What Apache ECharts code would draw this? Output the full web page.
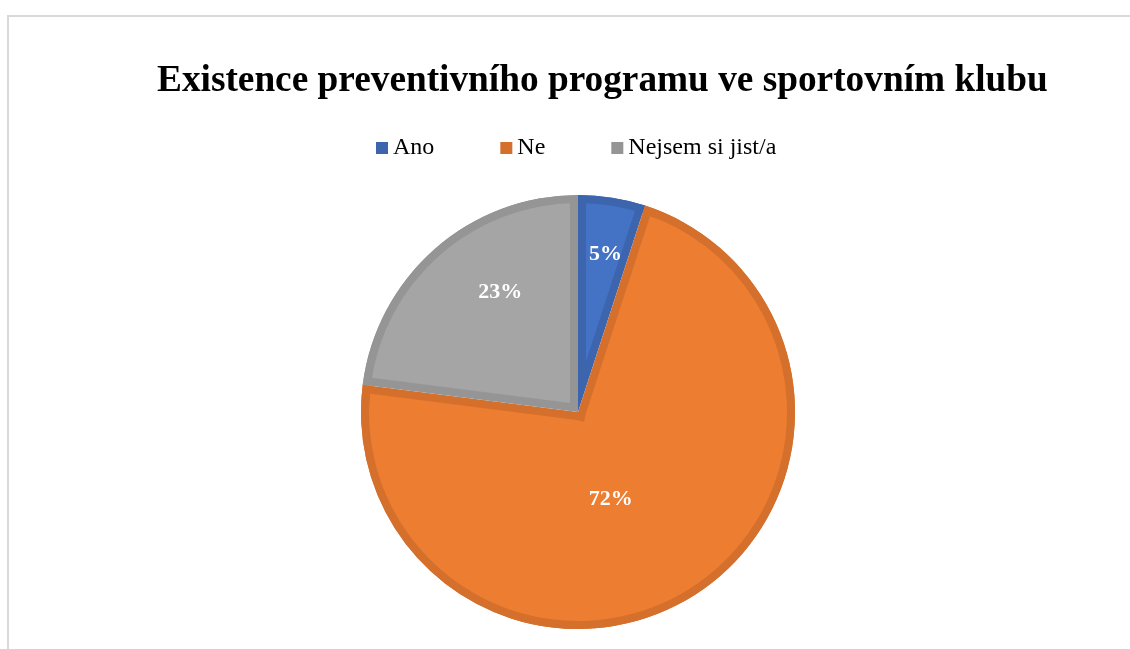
<!DOCTYPE html>
<html><head><meta charset="utf-8">
<script src="https://cdn.jsdelivr.net/npm/echarts@6/dist/echarts.min.js"></script>
<style>html,body{margin:0;padding:0;background:#fff}#c{width:1130px;height:649px}</style>
</head><body><div id="c"></div>
<script>
// ---- data ----
const categories = ['Ano', 'Ne', 'Nejsem si jist/a'];
const values = [5, 72, 23];
const titleText = 'Existence preventivního programu ve sportovním klubu';

// ---- style ----
const fillColors = ['#4472C4', '#ED7D31', '#A5A5A5'];
const edgeColors = ['#3C65AE', '#D5702C', '#959595'];
const labelNudge = [[10, -48], [-27, -7], [-4, -36]];
const CX = 578, CY = 412, R = 217, EDGE = 8;
const SERIF = '"Liberation Serif", "Times New Roman", serif';

const total = values.reduce((a, b) => a + b, 0);
let acc = 0;
const spans = values.map(v => { const a0 = acc; acc += v / total * 360; return [a0, acc]; });

function pieces(i) {
  const [a0, a1] = spans[i];
  if (a1 - a0 < 180) return [[a0, a1]];
  const mid = (a0 + a1) / 2, ov = 45;
  return [[a0, mid + ov], [mid - ov, a1]];
}

const series = [];
// base: darker edge colour, full pie
series.push({
  type: 'pie', radius: [0, R], center: [CX, CY], startAngle: 90, clockwise: true,
  silent: true, animation: false, label: { show: false }, labelLine: { show: false },
  data: categories.map((n, i) => ({ name: n, value: values[i], itemStyle: { color: edgeColors[i] } }))
});
// inner lighter fills, inset from the straight edges
values.forEach((v, i) => {
  pieces(i).forEach(([b0, b1]) => {
    const th = (b1 - b0) * Math.PI / 180;
    const d = EDGE / Math.sin(th / 2);
    const mid = (b0 + b1) / 2 * Math.PI / 180;
    series.push({
      type: 'pie', radius: [0, R - 1 - d],
      center: [CX + d * Math.sin(mid), CY - d * Math.cos(mid)],
      startAngle: 90 - b0, endAngle: 90 - b1, clockwise: true,
      silent: true, animation: false, label: { show: false }, labelLine: { show: false },
      data: [{ value: v, itemStyle: { color: fillColors[i] } }]
    });
  });
});
// outer rim
series.push({
  type: 'pie', radius: [R - EDGE, R], center: [CX, CY], startAngle: 90, clockwise: true,
  silent: true, animation: false, label: { show: false }, labelLine: { show: false },
  data: categories.map((n, i) => ({ name: n, value: values[i], itemStyle: { color: edgeColors[i] } }))
});
// labels
series.push({
  type: 'pie', radius: [0, R], center: [CX, CY], startAngle: 90, clockwise: true, z: 10,
  silent: true, animation: false, labelLine: { show: false },
  itemStyle: { color: 'rgba(0,0,0,0)' },
  label: { show: true, position: 'inside', formatter: '{d}%', color: '#fff',
           fontFamily: SERIF, fontWeight: 'bold', fontSize: 22 },
  labelLayout: p => ({ dx: labelNudge[p.dataIndex][0], dy: labelNudge[p.dataIndex][1] }),
  data: categories.map((n, i) => ({ name: n, value: values[i] }))
});

const chart = echarts.init(document.getElementById('c'), null, { renderer: 'canvas' });
chart.setOption({
  backgroundColor: '#fff',
  animation: false,
  graphic: [{ type: 'rect', shape: { x: 8, y: 16, width: 1300, height: 800 },
              style: { fill: 'none', stroke: '#d9d9d9', lineWidth: 2 }, silent: true }],
  title: { text: titleText, left: 157, top: 63, padding: 0,
           textStyle: { fontFamily: SERIF, fontWeight: 'bold', fontSize: 37.3, color: '#000' } },
  legend: {
    left: 376, top: 136, padding: 0, itemWidth: 12, itemHeight: 12, itemGap: 66, icon: 'rect',
    textStyle: { fontFamily: SERIF, fontSize: 24, color: '#000' },
    data: categories.map((n, i) => ({ name: n, itemStyle: { color: edgeColors[i] } }))
  },
  series
});
</script></body></html>
